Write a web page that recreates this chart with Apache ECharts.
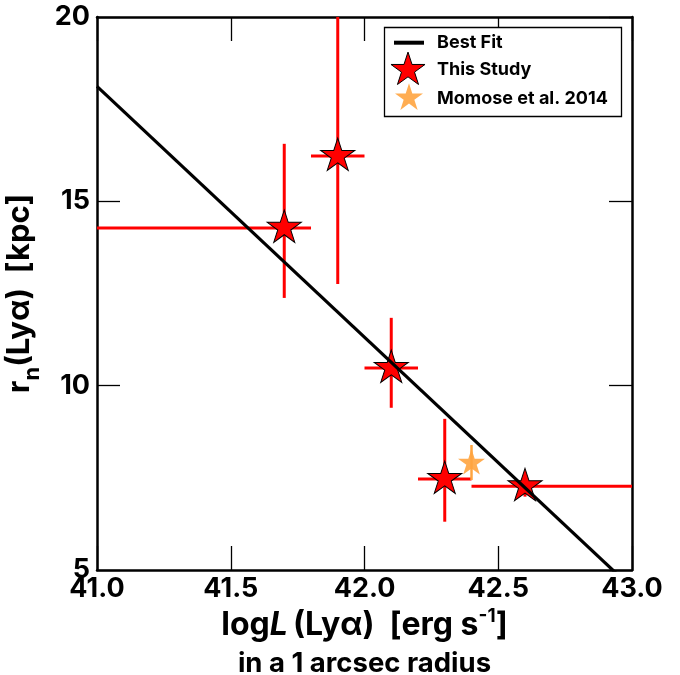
<!DOCTYPE html>
<html><head><meta charset="utf-8">
<script src="https://cdn.jsdelivr.net/npm/echarts@6/dist/echarts.min.js"></script>
<style>html,body{margin:0;padding:0;background:#fff}#c{width:680px;height:675px}</style>
</head><body><div id="c"></div>
<script>
// ---- data ----
const logL      = [41.70, 41.90, 42.10, 42.30, 42.60];
const rn        = [14.28, 16.23, 10.48, 7.47, 7.27];
const logLLow   = [40.60, 41.80, 42.00, 42.20, 42.40];
const logLHigh  = [41.80, 42.00, 42.20, 42.40, 43.20];
const rnLow     = [12.38, 12.76, 9.40, 6.31, 6.99];
const rnHigh    = [16.56, 20.50, 11.84, 9.10, 7.55];
const momoseLogL   = [42.40];
const momoseRn     = [7.90];
const momoseRnLow  = [7.44];
const momoseRnHigh = [8.39];
const fitLogL = [41.0, 43.0];
const fitRn   = [18.12, 4.51];
const legendNames = ['Best Fit', 'This Study', 'Momose et al. 2014'];

// ---- styling ----
const FONT = 'Inter';
const RED = '#ff0000';
const ORANGE = '#ffa43f';
const STAR = 'path://M50,0 L61.23,34.55 L97.55,34.55 L68.17,55.9 L79.39,90.45 L50,69.1 L20.61,90.45 L31.83,55.9 L2.45,34.55 L38.77,34.55 Z M50,100';

function starPoints(cx, cy, R) {
  const pts = [];
  for (let k = 0; k < 10; k++) {
    const a = (-90 + 36 * k) * Math.PI / 180;
    const r = k % 2 === 0 ? R : R * 0.382;
    pts.push([cx + r * Math.cos(a), cy + r * Math.sin(a)]);
  }
  return pts;
}

const studyData = logL.map((x, i) => [x, rn[i], logLLow[i], logLHigh[i], rnLow[i], rnHigh[i]]);
const momoseData = momoseLogL.map((x, i) => [x, momoseRn[i], x, x, momoseRnLow[i], momoseRnHigh[i]]);
const fitData = fitLogL.map((x, i) => [x, fitRn[i]]);

function errRender(color, width, doX) {
  return function (params, api) {
    const x = api.value(0), y = api.value(1);
    const xl = api.value(2), xh = api.value(3), yl = api.value(4), yh = api.value(5);
    const children = [];
    if (doX) {
      const pL = api.coord([xl, y]), pR = api.coord([xh, y]);
      children.push({type: 'line', shape: {x1: pL[0], y1: pL[1], x2: pR[0], y2: pR[1]}, style: {stroke: color, lineWidth: width}});
    }
    const pB = api.coord([x, yl]), pT = api.coord([x, yh]);
    children.push({type: 'line', shape: {x1: pB[0], y1: pB[1], x2: pT[0], y2: pT[1]}, style: {stroke: color, lineWidth: width}});
    return {type: 'group', children};
  };
}

const axisLine = {show: true, lineStyle: {color: '#000', width: 2.5}};
const tickStyle = {color: '#000', width: 1.3};
const labelStyle = {color: '#000', fontFamily: FONT, fontWeight: 'bold', fontSize: 27};

const titleRichBase = {color: '#000', fontFamily: FONT, fontWeight: 'bold', align: 'center'};

const chart = echarts.init(document.getElementById('c'), null, {renderer: 'canvas'});
chart.setOption({
  animation: false,
  backgroundColor: '#fff',
  grid: {left: 97, right: 48, top: 17, bottom: 105, containLabel: false, outerBoundsMode: 'none'},
  xAxis: [{
    type: 'value', min: 41, max: 43, interval: 0.5, position: 'bottom',
    axisLine, splitLine: {show: false},
    axisTick: {inside: true, length: 24, lineStyle: tickStyle},
    axisLabel: Object.assign({margin: 5, formatter: v => v.toFixed(1)}, labelStyle),
    name: '{a|log}{i|L}{a|\u2009(Lyα)  [erg s}{sup|-1}{a|]}\n{b|in a 1 arcsec radius}',
    nameLocation: 'middle', nameGap: 31,
    nameTextStyle: {
      rich: {
        a: Object.assign({fontSize: 32, lineHeight: 36}, titleRichBase),
        i: Object.assign({fontSize: 32, lineHeight: 36, fontStyle: 'italic'}, titleRichBase),
        sup: Object.assign({fontSize: 19, lineHeight: 34, verticalAlign: 'top'}, titleRichBase),
        b: Object.assign({fontSize: 27.5, lineHeight: 42}, titleRichBase)
      }
    }
  }, {
    type: 'value', min: 41, max: 43, interval: 0.5, position: 'top',
    axisLine, splitLine: {show: false},
    axisTick: {inside: true, length: 24, lineStyle: tickStyle},
    axisLabel: {show: false}
  }],
  yAxis: [{
    type: 'value', min: 5, max: 20, interval: 5, position: 'left',
    axisLine, splitLine: {show: false},
    axisTick: {inside: true, length: 23, lineStyle: tickStyle},
    axisLabel: Object.assign({margin: 7}, labelStyle),
    name: '{a|r}{sub|n}{a|(Lyα)  [kpc]}',
    nameLocation: 'middle', nameGap: 37,
    nameTextStyle: {
      rich: {
        a: Object.assign({fontSize: 31, lineHeight: 48}, titleRichBase),
        sub: Object.assign({fontSize: 22, lineHeight: 20, verticalAlign: 'bottom'}, titleRichBase)
      }
    }
  }, {
    type: 'value', min: 5, max: 20, interval: 5, position: 'right',
    axisLine, splitLine: {show: false},
    axisTick: {inside: true, length: 23, lineStyle: tickStyle},
    axisLabel: {show: false}
  }],
  series: [
    {
      type: 'custom', name: 'studyErr', data: studyData, clip: true, z: 2,
      encode: {x: 0, y: 1}, renderItem: errRender(RED, 3, true), silent: true
    },
    {
      type: 'custom', name: 'momoseErr', data: momoseData, clip: true, z: 2,
      encode: {x: 0, y: 1}, renderItem: errRender(ORANGE, 2.5, false), silent: true
    },
    {
      type: 'scatter', name: legendNames[2], data: momoseLogL.map((x, i) => [x, momoseRn[i]]), z: 3,
      symbol: STAR, symbolSize: [27, 28.4], symbolKeepAspect: false,
      itemStyle: {color: ORANGE, opacity: 0.9}
    },
    {
      type: 'scatter', name: legendNames[1], data: logL.map((x, i) => [x, rn[i]]), z: 4,
      symbol: STAR, symbolSize: [34, 35.75], symbolKeepAspect: false,
      itemStyle: {color: RED, borderColor: '#000', borderWidth: 1, opacity: 1}
    },
    {
      type: 'line', name: legendNames[0], data: fitData, z: 5, clip: true,
      symbol: 'none', lineStyle: {color: '#000', width: 3.2}
    }
  ],
  graphic: [
    {type: 'rect', z: 100, shape: {x: 384.5, y: 27.5, width: 237, height: 89},
      style: {fill: '#fff', stroke: '#000', lineWidth: 1.3}},
    {type: 'line', z: 101, shape: {x1: 394, y1: 42.7, x2: 424, y2: 42.7},
      style: {stroke: '#000', lineWidth: 4}},
    {type: 'polygon', z: 101, shape: {points: starPoints(408, 70, 17.9)},
      style: {fill: RED, stroke: '#000', lineWidth: 1}},
    {type: 'polygon', z: 101, shape: {points: starPoints(409, 98, 14.7)},
      style: {fill: ORANGE, opacity: 0.9}},
    {type: 'text', z: 101, x: 437, y: 42.5,
      style: {text: legendNames[0], font: 'bold 18px Inter', fill: '#000', align: 'left', verticalAlign: 'middle'}},
    {type: 'text', z: 101, x: 437, y: 69.7,
      style: {text: legendNames[1], font: 'bold 18px Inter', fill: '#000', align: 'left', verticalAlign: 'middle'}},
    {type: 'text', z: 101, x: 437, y: 98.3,
      style: {text: legendNames[2], font: 'bold 18px Inter', fill: '#000', align: 'left', verticalAlign: 'middle'}}
  ]
});
</script>
</body></html>
